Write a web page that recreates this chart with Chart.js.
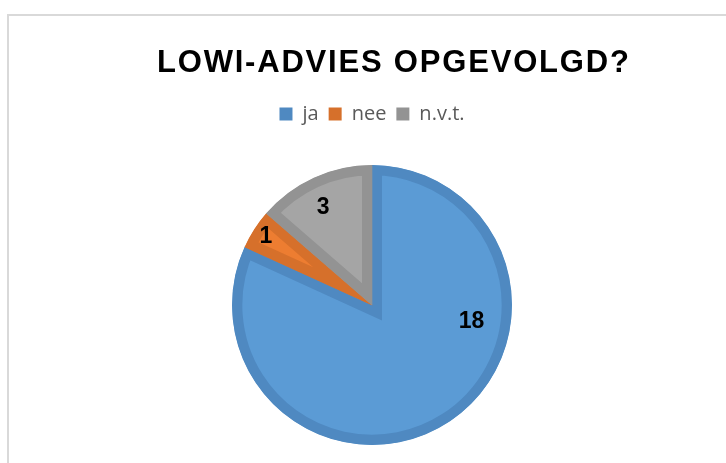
<!DOCTYPE html>
<html>
<head>
<meta charset="utf-8">
<script src="https://cdn.jsdelivr.net/npm/chart.js@4"></script>
<style>
  html, body { margin: 0; padding: 0; background: #fff; overflow: hidden; }
  body { width: 726px; height: 463px; position: relative; }
  #frame { position: absolute; left: 7px; top: 14px; width: 800px; height: 600px;
           border-left: 2px solid #d9d9d9; border-top: 2px solid #d9d9d9; }
  #chart { position: absolute; left: 0; top: 0; }
</style>
</head>
<body>
<div id="frame"></div>
<canvas id="chart" width="744" height="476"></canvas>
<script>
const chartTitle = 'LOWI-ADVIES OPGEVOLGD?';
const categories = ['ja', 'nee', 'n.v.t.'];
const counts = [18, 1, 3];

const fillColors = ['#5b9bd5', '#ed7d31', '#a5a5a5'];
const edgeColors = ['#4f89c1', '#d6702b', '#939393'];

// title drawn by hand so the letter spacing matches the original
const titlePlugin = {
    id: 'excelTitle',
    afterDraw(chart) {
        const ctx = chart.ctx;
        ctx.save();
        ctx.font = 'bold 31px "Liberation Sans", Arial, sans-serif';
        ctx.letterSpacing = '1.8px';
        ctx.fillStyle = '#000000';
        ctx.textAlign = 'left';
        ctx.textBaseline = 'alphabetic';
        ctx.fillText(chartTitle, 157, 72);
        ctx.restore();
    }
};

// value labels on the slices
const sliceLabels = {
    id: 'sliceLabels',
    afterDatasetsDraw(chart, args, opts) {
        const ctx = chart.ctx;
        const meta = chart.getDatasetMeta(0);
        ctx.save();
        ctx.font = 'bold 23px "Liberation Sans", Arial, sans-serif';
        ctx.fillStyle = '#000000';
        ctx.textAlign = 'center';
        ctx.textBaseline = 'middle';
        meta.data.forEach((arc, i) => {
            const p = arc.getProps(['x', 'y', 'startAngle', 'endAngle', 'outerRadius'], true);
            const place = opts.place[i];
            const a = (p.startAngle + p.endAngle) / 2 + place.turn * Math.PI / 180;
            const r = p.outerRadius * place.dist;
            ctx.fillText(String(counts[i]), p.x + Math.cos(a) * r, p.y + Math.sin(a) * r);
        });
        ctx.restore();
    }
};

let chart = new Chart(document.getElementById('chart').getContext('2d'), {
    type: 'pie',
    data: {
        labels: categories,
        datasets: [{
            data: counts,
            backgroundColor: fillColors,
            borderColor: edgeColors,
            borderWidth: 10,
            borderAlign: 'inner',
            borderJoinStyle: 'miter'
        }]
    },
    options: {
        responsive: false,
        animation: false,
        events: [],
        radius: 140,
        layout: {
            padding: { top: 94, left: 0, right: 0, bottom: 0 }
        },
        plugins: {
            title: { display: false },
            tooltip: { enabled: false },
            legend: {
                position: 'top',
                labels: {
                    boxWidth: 13,
                    boxHeight: 13,
                    padding: 10,
                    color: '#595959',
                    font: { family: '"Open Sans", sans-serif', size: 20 },
                    generateLabels() {
                        return categories.map((c, i) => ({
                            text: c,
                            fillStyle: edgeColors[i],
                            strokeStyle: edgeColors[i],
                            lineWidth: 0,
                            fontColor: '#595959',
                            hidden: false,
                            index: i
                        }));
                    }
                }
            },
            sliceLabels: {
                place: [
                    { dist: 0.72, turn: -48 },
                    { dist: 0.90, turn: 0 },
                    { dist: 0.78, turn: -2 }
                ]
            }
        }
    },
    plugins: [titlePlugin, sliceLabels]
});
</script>
</body>
</html>
